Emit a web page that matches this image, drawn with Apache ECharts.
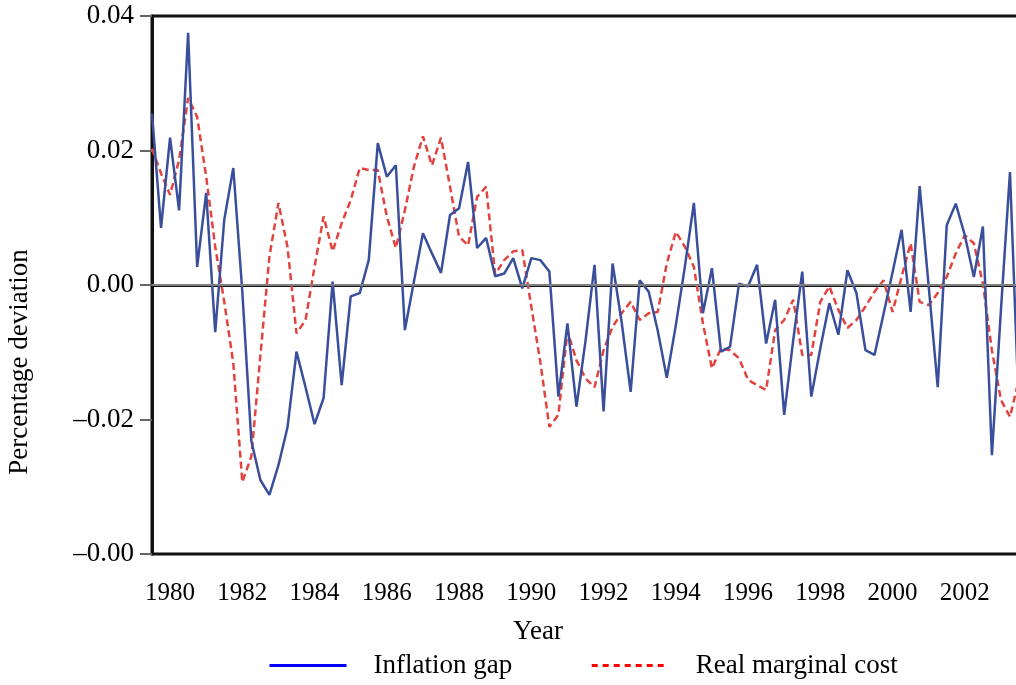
<!DOCTYPE html>
<html>
<head>
<meta charset="utf-8">
<script src="https://cdn.jsdelivr.net/npm/echarts@6/dist/echarts.min.js"></script>
<style>
  html, body { margin: 0; padding: 0; background: #fff; }
  #chart { width: 1016px; height: 685px; }
</style>
</head>
<body>
<div id="chart"></div>
<script>
// quarterly data, first point = 1980 Q1
const startYear = 1980
const years = ['1980', '1981', '1982', '1983', '1984', '1985', '1986', '1987', '1988', '1989', '1990', '1991',
  '1992', '1993', '1994', '1995', '1996', '1997', '1998', '1999', '2000', '2001', '2002', '2003']
const yTickLabels = ['–0.00', '–0.02', '0.00', '0.02', '0.04']

const inflationGap = [
  0.0255, 0.0085, 0.0219, 0.0111, 0.0375, 0.0027, 0.0137, -0.0070,
  0.0097, 0.0174, -0.0010, -0.0232, -0.0290, -0.0312, -0.0268, -0.0212,
  -0.0099, -0.0152, -0.0207, -0.0168, 0.0005, -0.0149, -0.0017, -0.0012,
  0.0037, 0.0211, 0.0161, 0.0178, -0.0067, 0.0005, 0.0077, 0.0047,
  0.0018, 0.0104, 0.0114, 0.0183, 0.0055, 0.0070, 0.0013, 0.0017,
  0.0040, -0.0005, 0.0040, 0.0037, 0.0020, -0.0166, -0.0057, -0.0181,
  -0.0083, 0.0030, -0.0188, 0.0032, -0.0055, -0.0159, 0.0007, -0.0010,
  -0.0068, -0.0138, -0.0060, 0.0027, 0.0122, -0.0042, 0.0025, -0.0099,
  -0.0092, 0.0002, -0.0002, 0.0030, -0.0087, -0.0022, -0.0193, -0.0082,
  0.0020, -0.0166, -0.0094, -0.0027, -0.0074, 0.0022, -0.0012, -0.0097,
  -0.0104, -0.0043, 0.0019, 0.0082, -0.0040, 0.0147, -0.0002, -0.0152,
  0.0089, 0.0121, 0.0074, 0.0012, 0.0087, -0.0253, -0.0037, 0.0168,
  -0.0192
]

const realMarginalCost = [
  0.0203, 0.0166, 0.0134, 0.0186, 0.0278, 0.0250, 0.0161, 0.0057,
  -0.0025, -0.0116, -0.0293, -0.0255, -0.0105, 0.0042, 0.0122, 0.0057,
  -0.0072, -0.0052, 0.0027, 0.0102, 0.0050, 0.0092, 0.0126, 0.0174,
  0.0171, 0.0171, 0.0102, 0.0055, 0.0111, 0.0176, 0.0221, 0.0178,
  0.0219, 0.0146, 0.0072, 0.0059, 0.0131, 0.0146, 0.0016, 0.0037,
  0.0050, 0.0052, -0.0032, -0.0115, -0.0211, -0.0193, -0.0069, -0.0112,
  -0.0139, -0.0152, -0.0097, -0.0062, -0.0042, -0.0025, -0.0052, -0.0042,
  -0.0040, 0.0032, 0.0079, 0.0057, 0.0027, -0.0057, -0.0124, -0.0094,
  -0.0097, -0.0109, -0.0141, -0.0149, -0.0156, -0.0067, -0.0052, -0.0022,
  -0.0104, -0.0104, -0.0025, -0.0002, -0.0037, -0.0064, -0.0052, -0.0032,
  -0.0010, 0.0007, -0.0040, 0.0012, 0.0062, -0.0025, -0.0030, -0.0012,
  0.0012, 0.0047, 0.0074, 0.0062, 0.0002, -0.0097, -0.0171, -0.0196,
  -0.0140
]

const serif = '"Liberation Serif", "DejaVu Serif", serif'

function quarterly(values) {
  return values.map((v, i) => [startYear + i / 4, v])
}

const myChart = echarts.init(document.getElementById('chart'))
const option = {
  animation: false,
  backgroundColor: '#fff',
  grid: {
    left: 152, right: -3, top: 16, bottom: 131,
    outerBoundsMode: 'none',
    containLabel: false,
    show: true, borderColor: '#111', borderWidth: 3
  },
  legend: {
    left: 268, top: 652, padding: 0,
    itemWidth: 77, itemHeight: 14, itemGap: 78,
    textStyle: { fontFamily: serif, fontSize: 27, color: '#000', padding: [0, 0, 0, 22] },
    data: [
      { name: 'Inflation gap', itemStyle: { opacity: 0 }, lineStyle: { color: '#0000ff', width: 3, type: 'solid' } },
      { name: 'Real marginal cost', itemStyle: { opacity: 0 }, lineStyle: { color: '#ff0000', width: 3, type: [6, 5] } }
    ]
  },
  xAxis: [
    {
      type: 'category',
      data: years,
      boundaryGap: true,
      axisLine: { lineStyle: { color: '#111', width: 3 } },
      axisTick: { interval: 0, length: 11, lineStyle: { color: '#222', width: 1.5 } },
      axisLabel: { interval: 1, margin: 27, fontFamily: serif, fontSize: 25, color: '#000' },
      splitLine: { show: false }
    },
    {
      type: 'value',
      min: startYear,
      max: startYear + years.length,
      show: false
    }
  ],
  yAxis: {
    type: 'value',
    min: -0.04, max: 0.04, interval: 0.02,
    axisLine: { show: true, lineStyle: { color: '#111', width: 3 } },
    axisTick: { show: true, length: 12, lineStyle: { color: '#666', width: 2 } },
    axisLabel: {
      margin: 18, fontFamily: serif, fontSize: 27, color: '#000',
      formatter: v => yTickLabels[Math.round((v + 0.04) / 0.02)]
    },
    splitLine: { show: false }
  },
  graphic: [
    {
      type: 'text',
      x: 20, y: 362, rotation: Math.PI / 2,
      style: { text: 'Percentage deviation', font: '27px ' + serif, fill: '#000', align: 'center', verticalAlign: 'middle' }
    },
    {
      type: 'text', x: 538, y: 632,
      style: { text: 'Year', font: '27px ' + serif, fill: '#000', align: 'center', verticalAlign: 'middle' }
    }
  ],
  series: [
    {
      name: 'Inflation gap',
      type: 'line',
      xAxisIndex: 1,
      data: quarterly(inflationGap),
      symbol: 'none',
      lineStyle: { color: '#3a4f9c', width: 2.5 },
      itemStyle: { color: '#3a4f9c' },
      z: 3,
      markLine: {
        silent: true, symbol: 'none',
        label: { show: false },
        lineStyle: { color: '#808080', width: 2, type: 'solid' },
        data: [{ yAxis: 0 }]
      }
    },
    {
      name: 'Real marginal cost',
      type: 'line',
      xAxisIndex: 1,
      data: quarterly(realMarginalCost),
      symbol: 'none',
      lineStyle: { color: '#e2433f', width: 2.5, type: [7, 4] },
      itemStyle: { color: '#e2433f' },
      z: 2
    }
  ]
}
myChart.setOption(option)
</script>
</body>
</html>
